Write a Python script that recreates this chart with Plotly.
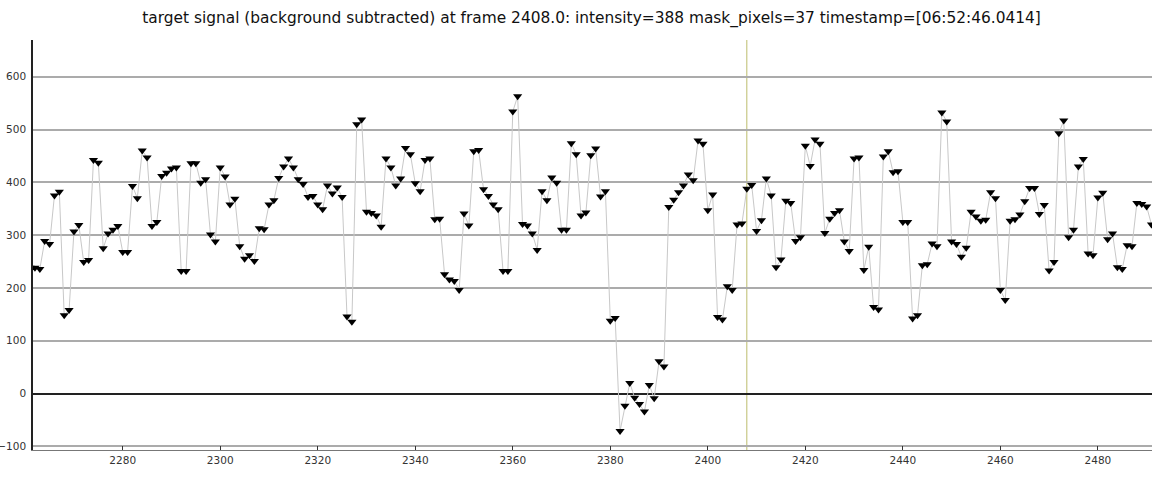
import plotly.graph_objects as go

start_frame = 2261
intensity = [
    238, 238, 236, 289, 283, 375, 382, 148, 158, 307,
    319, 249, 253, 442, 437, 275, 303, 310, 317, 268,
    268, 393, 370, 460, 447, 317, 325, 412, 418, 426,
    428, 232, 232, 436, 436, 399, 406, 301, 288, 428,
    411, 358, 369, 279, 255, 262, 251, 313, 311, 358,
    366, 408, 430, 445, 428, 406, 397, 372, 374, 358,
    349, 394, 379, 390, 372, 146, 136, 510, 519, 344,
    342, 337, 316, 445, 428, 394, 407, 465, 453, 398,
    383, 442, 445, 330, 331, 226, 216, 213, 196, 341,
    318, 459, 461, 387, 374, 358, 349, 232, 232, 534,
    563, 321, 318, 303, 272, 383, 366, 409, 399, 310,
    310, 474, 453, 337, 343, 451, 464, 373, 383, 138,
    143, -71, -23, 20, -8, -20, -34, 16, -9, 61,
    51, 353, 367, 381, 394, 415, 404, 479, 473, 347,
    377, 145, 140, 203, 196, 320, 322, 388, 395, 308,
    328, 407, 375, 239, 254, 365, 361, 289, 296, 469,
    431, 481, 473, 304, 331, 342, 347, 288, 270, 445,
    447, 234, 278, 164, 159, 449, 459, 419, 421, 325,
    325, 142, 148, 243, 245, 284, 279, 532, 515, 288,
    283, 259, 276, 344, 335, 327, 329, 381, 370, 196,
    177, 327, 330, 339, 364, 389, 389, 340, 357, 233,
    249, 493, 517, 296, 310, 430, 444, 265, 262, 371,
    380, 292, 303, 239, 236, 281, 279, 361, 359, 354,
    320,
]
frames = list(range(start_frame, start_frame + len(intensity)))

current_frame = 2408
y_ticks = [-100, 0, 100, 200, 300, 400, 500, 600]
x_ticks = [2280, 2300, 2320, 2340, 2360, 2380, 2400, 2420, 2440, 2460, 2480]
title_text = ("target signal (background subtracted) at frame 2408.0: intensity=388 "
              "mask_pixels=37 timestamp=[06:52:46.0414]")

fig = go.Figure()
fig.add_trace(go.Scatter(
    x=frames, y=intensity, mode="lines+markers",
    line=dict(color="#c8c8c8", width=1),
    marker=dict(symbol="triangle-down", size=8, color="black",
                line=dict(width=0)),
    showlegend=False,
))

fig.add_shape(type="line", x0=current_frame, x1=current_frame, xref="x",
              y0=0, y1=1, yref="paper",
              line=dict(color="#bcbc6c", width=1), layer="below")

fig.update_layout(
    width=1152, height=482,
    margin=dict(l=33, r=0, t=40, b=32, autoexpand=False),
    paper_bgcolor="white", plot_bgcolor="white",
    title=dict(text=title_text, x=0.5135, xanchor="center", y=0.963, yanchor="middle",
               font=dict(family="DejaVu Sans", size=15.4, color="#111111")),
    font=dict(family="DejaVu Sans", size=10.5, color="#333333"),
)
fig.update_xaxes(
    range=[2261.6, 2491.1], tickvals=x_ticks, showgrid=False, zeroline=False,
    showline=True, linecolor="#777777", linewidth=1, automargin=False,
    ticks="inside", ticklen=4, tickcolor="#333333",
)
fig.update_yaxes(
    range=[-107, 669.5], tickvals=y_ticks, showgrid=True,
    gridcolor="#ababab", gridwidth=2, automargin=False,
    zeroline=True, zerolinecolor="#222222", zerolinewidth=2,
    showline=True, linecolor="#222222", linewidth=1.5,
    ticks="", ticklabelstandoff=3,
)

fig.write_html("out.html",
               config={"displayModeBar": False},
               post_script="document.body.style.margin='0';document.body.style.overflow='hidden';")
